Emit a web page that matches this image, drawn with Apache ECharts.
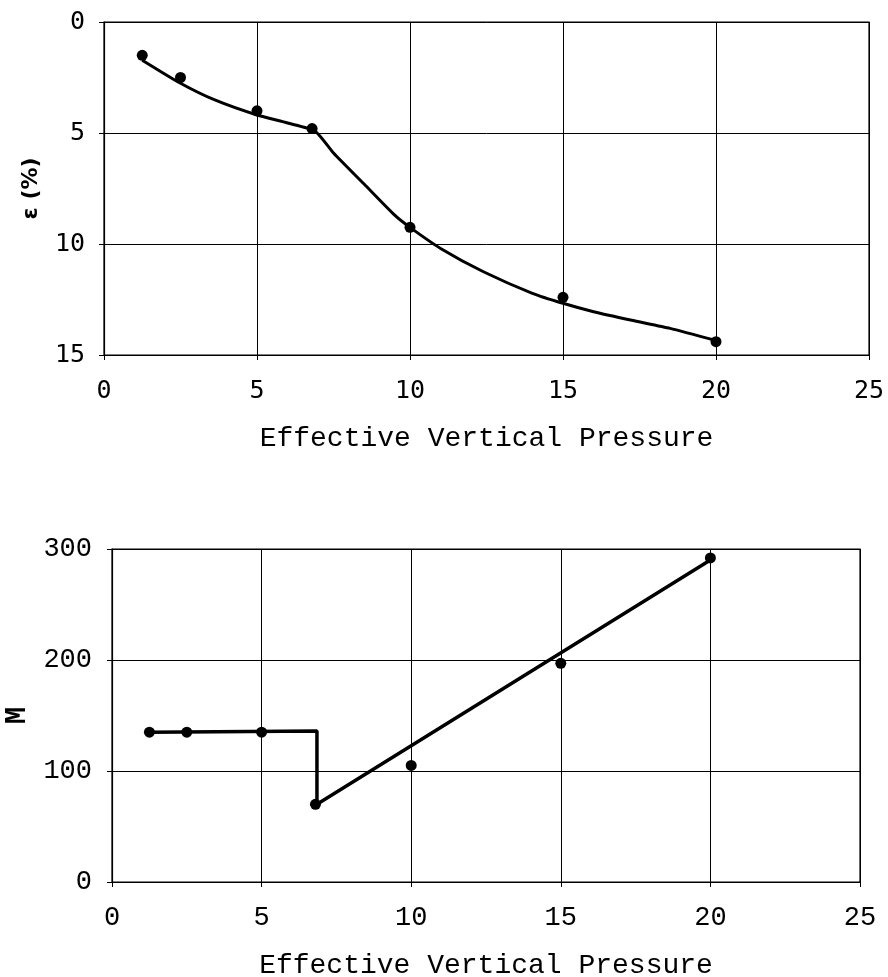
<!DOCTYPE html>
<html><head><meta charset="utf-8">
<script src="https://cdn.jsdelivr.net/npm/echarts@6/dist/echarts.min.js"></script>
<style>html,body{margin:0;padding:0;background:#fff}#c{width:888px;height:977px}</style>
</head><body><div id="c"></div>
<script>
// Top chart: strain vs effective vertical pressure
const strainPressure = [1.25, 2.5, 5, 6.8, 10, 15, 20];
const strainValues = [1.5, 2.5, 4.0, 4.8, 9.25, 12.4, 14.4];
// fitted curve
const strainCurveX = [1.25, 2.5, 3.6, 5, 6.0, 6.9, 7.5, 8.5, 9.5, 10, 11, 12.4, 14, 15, 16, 17.3, 18.5, 20];
const strainCurveY = [1.72, 2.76, 3.5, 4.19, 4.55, 4.92, 5.9, 7.3, 8.7, 9.25, 10.2, 11.25, 12.22, 12.67, 13.05, 13.45, 13.8, 14.35];
// Bottom chart: modulus M
const modPressure = [1.25, 2.5, 5, 6.8, 10, 15, 20];
const modValues = [135, 135, 135, 70, 105, 197, 292];
const modLineX = [1.25, 6.85, 6.85, 20];
const modLineY = [135, 136, 70, 290];
const xTicks = [0, 5, 10, 15, 20, 25];
const strainTicks = [0, 5, 10, 15];
const modTicks = [0, 100, 200, 300];

const zip = (a, b) => a.map((v, i) => [v, b[i]]);
const black = '#000';
function xAxis(gridIndex, fontFamily, fontSize, margin, nameGap) {
  return {
    type: 'value', gridIndex, min: xTicks[0], max: xTicks[xTicks.length - 1], interval: 5,
    name: 'Effective Vertical Pressure', nameLocation: 'middle', nameGap, nameMoveOverlap: false,
    nameTextStyle: { fontFamily: 'Liberation Mono', fontSize: 28, color: black },
    axisLine: { show: true, onZero: false, lineStyle: { color: black, width: 1.2 } },
    axisTick: { show: true, length: 5, lineStyle: { color: black } },
    axisLabel: { margin, fontFamily, fontSize, color: black },
    splitLine: { show: true, lineStyle: { color: black, width: 1 } }
  };
}
const option = {
  animation: false,
  backgroundColor: '#fff',
  grid: [
    { left: 104, top: 22, width: 765, height: 333, show: true, borderColor: black, borderWidth: 1.2, outerBoundsMode: 'none', containLabel: false },
    { left: 112, top: 549, width: 748, height: 333, show: true, borderColor: black, borderWidth: 1.2, outerBoundsMode: 'none', containLabel: false }
  ],
  xAxis: [xAxis(0, 'DejaVu Sans Mono', 25, 24, 70), xAxis(1, 'Liberation Mono', 27, 22, 70)],
  yAxis: [
    {
      type: 'value', gridIndex: 0, min: strainTicks[0], max: strainTicks[strainTicks.length - 1], interval: 5, inverse: true,
      name: 'ε (%)', nameLocation: 'middle', nameGap: 62, nameRotate: 90, nameMoveOverlap: false,
      nameTextStyle: { fontFamily: 'DejaVu Sans', fontWeight: 'bold', fontSize: 22, color: black },
      axisLine: { show: true, onZero: false, lineStyle: { color: black, width: 1.2 } },
      axisTick: { show: true, length: 5, lineStyle: { color: black } },
      axisLabel: { margin: 19, fontFamily: 'DejaVu Sans Mono', fontSize: 25, color: black },
      splitLine: { show: true, lineStyle: { color: black, width: 1 } }
    },
    {
      type: 'value', gridIndex: 1, min: modTicks[0], max: modTicks[modTicks.length - 1], interval: 100,
      name: 'M', nameLocation: 'middle', nameGap: 80, nameRotate: 90, nameMoveOverlap: false,
      nameTextStyle: { fontFamily: 'Liberation Mono', fontWeight: 'bold', fontSize: 29, color: black },
      axisLine: { show: true, onZero: false, lineStyle: { color: black, width: 1.2 } },
      axisTick: { show: true, length: 5, lineStyle: { color: black } },
      axisLabel: { margin: 20, fontFamily: 'Liberation Mono', fontSize: 27, color: black },
      splitLine: { show: true, lineStyle: { color: black, width: 1 } }
    }
  ],
  series: [
    { type: 'line', xAxisIndex: 0, yAxisIndex: 0, data: zip(strainCurveX, strainCurveY), smooth: 0.2, showSymbol: false,
      lineStyle: { color: black, width: 3 }, z: 3 },
    { type: 'scatter', xAxisIndex: 0, yAxisIndex: 0, data: zip(strainPressure, strainValues), symbolSize: 11,
      itemStyle: { color: black, opacity: 1 }, z: 4 },
    { type: 'line', xAxisIndex: 1, yAxisIndex: 1, data: zip(modLineX, modLineY), showSymbol: false,
      lineStyle: { color: black, width: 3.5 }, z: 3 },
    { type: 'scatter', xAxisIndex: 1, yAxisIndex: 1, data: zip(modPressure, modValues), symbolSize: 11,
      itemStyle: { color: black, opacity: 1 }, z: 4 }
  ]
};
echarts.init(document.getElementById('c'), null, { renderer: 'canvas' }).setOption(option);
</script></body></html>
